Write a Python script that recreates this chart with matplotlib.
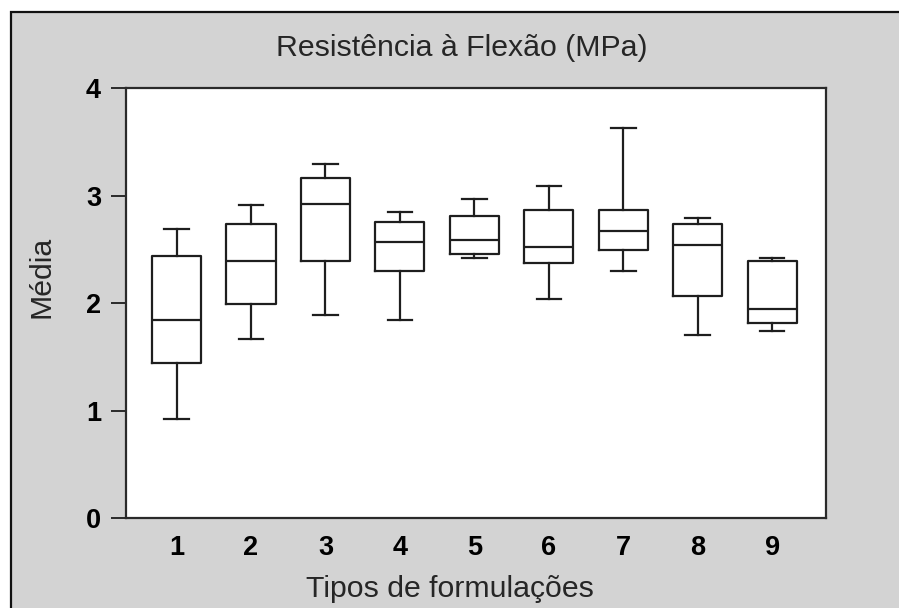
import matplotlib
matplotlib.use("Agg")
import matplotlib.pyplot as plt
from matplotlib.patches import Rectangle

# Data
formulations = ["1", "2", "3", "4", "5", "6", "7", "8", "9"]
whisker_low = [0.92, 1.67, 1.89, 1.84, 2.42, 2.04, 2.30, 1.70, 1.74]
q1 = [1.44, 1.99, 2.39, 2.30, 2.46, 2.37, 2.49, 2.07, 1.82]
median = [1.84, 2.39, 2.92, 2.57, 2.59, 2.52, 2.67, 2.54, 1.95]
q3 = [2.44, 2.74, 3.16, 2.75, 2.81, 2.87, 2.87, 2.74, 2.39]
whisker_high = [2.69, 2.91, 3.29, 2.85, 2.97, 3.09, 3.63, 2.79, 2.42]
y_ticks = [0, 1, 2, 3, 4]

title = "Resistência à Flexão (MPa)"
xlabel = "Tipos de formulações"
ylabel = "Média"

W, H = 899, 608
fig = plt.figure(figsize=(W / 100, H / 100), dpi=100)
fig.patch.set_facecolor("white")

# Outer gray frame
frame = Rectangle((11 / W, -0.02), 1.05, 1 - 12 / H + 0.02, transform=fig.transFigure,
                  facecolor="#d3d3d3", edgecolor="#111111", linewidth=1.6, zorder=-5)
fig.patches.append(frame)

ax = fig.add_axes([126 / W, (H - 518.3) / H, (825.7 - 126) / W, (518.3 - 88) / H])
ax.set_zorder(2)
ax.set_facecolor("white")

positions = list(range(1, len(formulations) + 1))
stats = []
for i, lab in enumerate(formulations):
    stats.append(dict(label=lab, whislo=whisker_low[i], q1=q1[i], med=median[i],
                      q3=q3[i], whishi=whisker_high[i], fliers=[]))

lc = "#1e1e1e"
lw = 1.6
ax.bxp(stats, positions=positions, widths=0.66, showfliers=False,
       boxprops=dict(color=lc, linewidth=lw),
       whiskerprops=dict(color=lc, linewidth=lw),
       capprops=dict(color=lc, linewidth=lw),
       medianprops=dict(color=lc, linewidth=lw))

ax.set_xlim(0.32, 9.72)
ax.set_ylim(0, 4)
ax.set_yticks(y_ticks)
ax.set_yticklabels([str(t) for t in y_ticks])
ax.set_xticks(positions)
ax.set_xticklabels(formulations)

for sp in ax.spines.values():
    sp.set_color("#2a2a2a")
    sp.set_linewidth(1.6)

ax.tick_params(axis="y", direction="out", length=11, width=1.4, color="#2a2a2a",
               pad=7, labelsize=19.5, labelcolor="black")
ax.tick_params(axis="x", length=0, pad=12, labelsize=19.5, labelcolor="black")
for lab in ax.get_xticklabels() + ax.get_yticklabels():
    lab.set_fontfamily("Liberation Sans")
    lab.set_fontweight("bold")

fig.text(462 / W, 1 - 56 / H, title, ha="center", va="baseline",
         fontsize=21.8, family="Liberation Sans", color="#262626")
fig.text(450 / W, 1 - 597 / H, xlabel, ha="center", va="baseline",
         fontsize=21.8, family="Liberation Sans", color="#262626")
fig.text(41 / W, 1 - 277 / H, ylabel, ha="center", va="center", rotation=90,
         fontsize=21.8, family="Liberation Sans", color="#262626")

fig.savefig("out.png", dpi=100, facecolor=fig.get_facecolor())
